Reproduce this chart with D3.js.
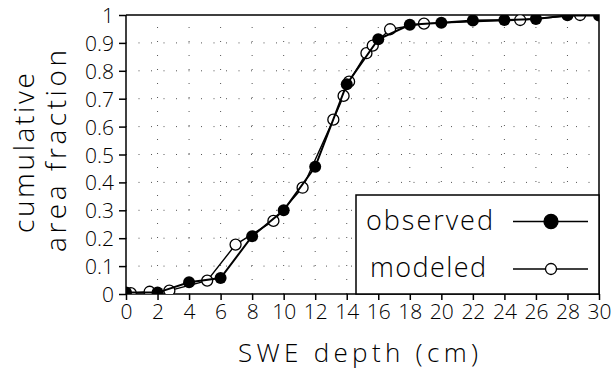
<!DOCTYPE html>
<html lang="en">
<head>
<meta charset="UTF-8">
<title>SWE depth</title>
<script src="https://cdn.jsdelivr.net/npm/d3@7"></script>
<style>
    body { margin: 0; background: #fff; }
    text { font-family: 'Open Sans', 'DejaVu Sans', sans-serif; font-weight: 300; fill: #000; }
    .axis path, .axis line { fill: none; stroke: #000; stroke-width: 1.5; }
    .grid line { stroke: #555; stroke-width: 1; }
</style>
</head>
<body>
<svg id="img" width="613" height="381"></svg>
<script>
// data
var xTicks = [0, 2, 4, 6, 8, 10, 12, 14, 16, 18, 20, 22, 24, 26, 28, 30];
var yTicks = [0, 0.1, 0.2, 0.3, 0.4, 0.5, 0.6, 0.7, 0.8, 0.9, 1];
var yTickLabels = ["0", "0.1", "0.2", "0.3", "0.4", "0.5", "0.6", "0.7", "0.8", "0.9", "1"];

var obsX = [0, 2, 4, 6, 8, 10, 12, 14, 16, 18, 20, 22, 24, 26, 28, 30];
var obsY = [0.005, 0.005, 0.042, 0.057, 0.207, 0.300, 0.456, 0.752, 0.913, 0.965, 0.972, 0.980, 0.982, 0.986, 0.999, 0.998];

var modX = [0.3, 1.5, 2.75, 5.15, 6.95, 9.35, 11.2, 13.15, 13.8, 14.15, 15.25, 15.65, 16.75, 18.9, 25.0, 28.8];
var modY = [0.003, 0.008, 0.012, 0.048, 0.177, 0.262, 0.381, 0.625, 0.71, 0.761, 0.863, 0.89, 0.949, 0.969, 0.982, 1.0];

var seriesNames = ["observed", "modeled"];

var vis = d3.select("#img"),
    MARGINS = {top: 15, right: 14, bottom: 87, left: 126},
    WIDTH = 613,
    HEIGHT = 381,
    xRange = d3.scaleLinear().domain([0, 30]).range([MARGINS.left, WIDTH - MARGINS.right]),
    yRange = d3.scaleLinear().domain([0, 1]).range([HEIGHT - MARGINS.bottom, MARGINS.top]);

var x0 = xRange(0), x1 = xRange(30), y0 = yRange(0), y1 = yRange(1);

// dotted grid
var grid = vis.append("g").attr("class", "grid");
grid.selectAll(".vg").data(xTicks.slice(1, -1)).enter().append("line")
    .attr("x1", d => xRange(d)).attr("x2", d => xRange(d))
    .attr("y1", y0).attr("y2", y1)
    .attr("stroke-dasharray", "1,13");
grid.selectAll(".hg").data(yTicks.slice(1, -1)).enter().append("line")
    .attr("x1", x0).attr("x2", x1)
    .attr("y1", d => yRange(d)).attr("y2", d => yRange(d))
    .attr("stroke-dasharray", "1,11.5");

// frame top/right
vis.append("path")
    .attr("d", "M" + x0 + "," + y1 + "H" + x1 + "V" + y0)
    .attr("fill", "none").attr("stroke", "#000").attr("stroke-width", 1.5);

// axes
var xAxis = d3.axisBottom(xRange).tickValues(xTicks).tickSize(6).tickPadding(4).tickFormat(d3.format("d"));
var yAxis = d3.axisLeft(yRange).tickValues(yTicks).tickSize(7).tickPadding(5)
    .tickFormat(function (d, i) { return yTickLabels[i]; });

var gx = vis.append("g").attr("class", "x axis")
    .attr("transform", "translate(0," + y0 + ")").call(xAxis);
gx.select(".domain").attr("d", "M" + x0 + ",0H" + x1);
gx.selectAll("text").attr("font-size", 21).attr("font-family", null);

var gy = vis.append("g").attr("class", "y axis")
    .attr("transform", "translate(" + x0 + ",0)").call(yAxis);
gy.select(".domain").attr("d", "M0," + y1 + "V" + y0);
gy.selectAll("text").attr("font-size", 21).attr("font-family", null).attr("dy", "0.36em");

// clip to plot area
vis.append("clipPath").attr("id", "clip").append("rect")
    .attr("x", x0).attr("y", y1).attr("width", x1 - x0).attr("height", y0 - y1);

var plot = vis.append("g").attr("clip-path", "url(#clip)");

var modData = modX.map((d, i) => [d, modY[i]]);
var obsData = obsX.map((d, i) => [d, obsY[i]]);

var lineFunc = d3.line().x(d => xRange(d[0])).y(d => yRange(d[1]));

plot.append("path").attr("d", lineFunc(modData))
    .attr("fill", "none").attr("stroke", "#000").attr("stroke-width", 1.4);
plot.selectAll(".mod").data(modData).enter().append("circle")
    .attr("cx", d => xRange(d[0])).attr("cy", d => yRange(d[1])).attr("r", 5.5)
    .attr("fill", "#fff").attr("stroke", "#000").attr("stroke-width", 1.3);

plot.append("path").attr("d", lineFunc(obsData))
    .attr("fill", "none").attr("stroke", "#000").attr("stroke-width", 2);
plot.selectAll(".obs").data(obsData).enter().append("circle")
    .attr("cx", d => xRange(d[0])).attr("cy", d => yRange(d[1])).attr("r", 6)
    .attr("fill", "#000");

// axis titles
vis.append("text")
    .attr("transform", "translate(34,153) rotate(-90)")
    .attr("text-anchor", "middle").attr("font-size", 28)
    .attr("textLength", 160).attr("lengthAdjust", "spacing")
    .text("cumulative");
vis.append("text")
    .attr("transform", "translate(66,151) rotate(-90)")
    .attr("text-anchor", "middle").attr("font-size", 28)
    .attr("textLength", 202).attr("lengthAdjust", "spacing")
    .text("area fraction");
vis.append("text")
    .attr("x", 358).attr("y", 362)
    .attr("text-anchor", "middle").attr("font-size", 26)
    .attr("textLength", 240).attr("lengthAdjust", "spacing")
    .text("SWE depth (cm)");

// legend
var legend = vis.append("g");
legend.append("rect")
    .attr("x", 356).attr("y", 195).attr("width", x1 - 356).attr("height", y0 - 195)
    .attr("fill", "#fff").attr("stroke", "#000").attr("stroke-width", 1.5);

var legRows = [
    {name: seriesNames[0], tx: 366, ty: 230, ly: 221.5, filled: true},
    {name: seriesNames[1], tx: 370, ty: 277, ly: 269, filled: false}
];
legRows.forEach(function (r) {
    legend.append("text").attr("x", r.tx).attr("y", r.ty)
        .attr("font-size", 27).attr("textLength", r.filled ? 127 : 116).attr("lengthAdjust", "spacing")
        .text(r.name);
    legend.append("line").attr("x1", 513).attr("x2", 588).attr("y1", r.ly).attr("y2", r.ly)
        .attr("stroke", "#000").attr("stroke-width", 1.3);
    legend.append("circle").attr("cx", 551).attr("cy", r.ly).attr("r", r.filled ? 7 : 5.5)
        .attr("fill", r.filled ? "#000" : "#fff").attr("stroke", "#000").attr("stroke-width", 1.3);
});
</script>
</body>
</html>
